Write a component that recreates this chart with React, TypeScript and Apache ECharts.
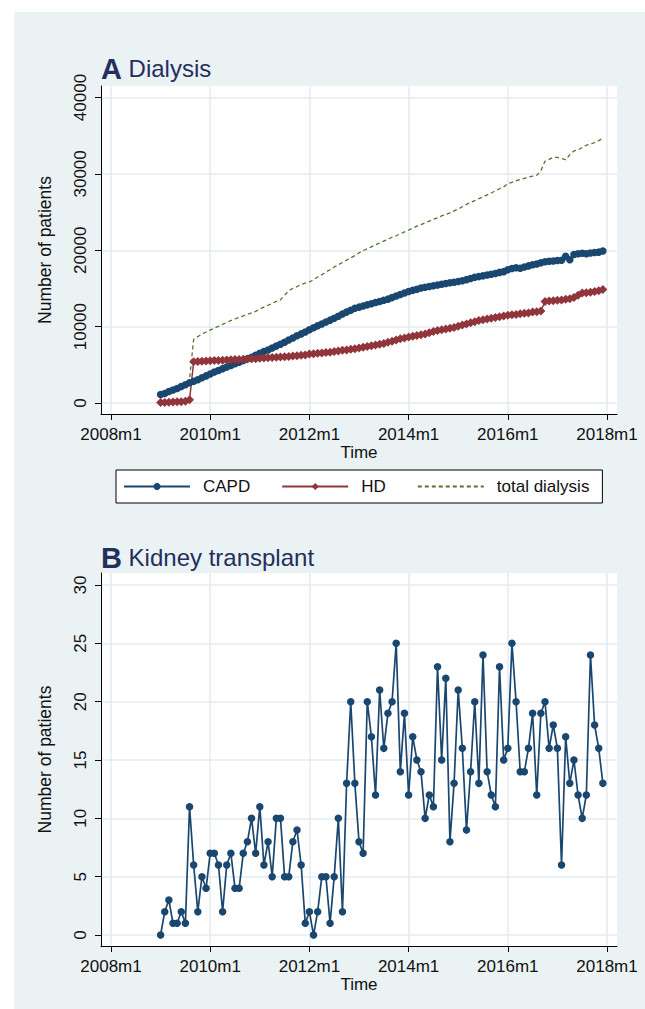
import React, { useEffect, useRef } from "react";
import * as echarts from "echarts";

// x positions are months counted from 2008m1 (= 0)
const xTickValues = [0, 24, 48, 72, 96, 120];
const xTickLabels = ["2008m1", "2010m1", "2012m1", "2014m1", "2016m1", "2018m1"];
const dialysisTicks = [0, 10000, 20000, 30000, 40000];
const transplantTicks = [0, 5, 10, 15, 20, 25, 30];
const legendNames = ["CAPD", "HD", "total dialysis"];
const firstMonth = 12; // 2009m1

// Panel A (monthly, 2009m1 .. 2017m12)
const capd = [
  1100, 1250, 1500, 1700, 1900, 2150, 2400, 2650, 2850, 3050, 3300, 3550,
  3800, 4050, 4250, 4500, 4700, 4900, 5150, 5350, 5550, 5800, 6000, 6250,
  6500, 6750, 6950, 7200, 7450, 7700, 7950, 8250, 8500, 8800, 9050, 9300,
  9600, 9850, 10100, 10350, 10600, 10850, 11100, 11350, 11650, 11900, 12150, 12400,
  12550, 12700, 12850, 13000, 13150, 13300, 13450, 13600, 13800, 14000, 14200, 14400,
  14600, 14750, 14900, 15050, 15150, 15250, 15350, 15450, 15550, 15650, 15750, 15800,
  15900, 16000, 16150, 16300, 16450, 16550, 16650, 16750, 16850, 16950, 17100, 17200,
  17450, 17600, 17700, 17650, 17800, 17950, 18100, 18200, 18350, 18500, 18550, 18600,
  18650, 18700, 19200, 18750, 19450, 19550, 19600, 19550, 19650, 19700, 19750, 19900,
];
const hd = [
  50, 80, 100, 120, 150, 180, 220, 420, 5400, 5450, 5480, 5500,
  5520, 5550, 5580, 5600, 5620, 5650, 5680, 5700, 5720, 5750, 5780, 5800,
  5850, 5880, 5920, 5950, 5980, 6020, 6060, 6100, 6150, 6200, 6250, 6300,
  6400, 6450, 6500, 6550, 6600, 6650, 6750, 6800, 6900, 6950, 7050, 7100,
  7200, 7300, 7400, 7500, 7600, 7700, 7800, 7950, 8100, 8250, 8400, 8500,
  8650, 8750, 8850, 8950, 9050, 9200, 9350, 9500, 9600, 9700, 9800, 9900,
  10050, 10200, 10350, 10500, 10650, 10800, 10900, 11000, 11100, 11200, 11300, 11400,
  11500, 11550, 11600, 11700, 11750, 11800, 11900, 11950, 12050, 13300, 13350, 13400,
  13450, 13500, 13600, 13650, 13800, 14100, 14400, 14450, 14500, 14600, 14700, 14850,
];
const totalDialysis = [
  1150, 1300, 1550, 1800, 2050, 2350, 2600, 3100, 8350, 8700, 9000, 9300,
  9550, 9800, 10050, 10300, 10550, 10800, 11000, 11200, 11400, 11600, 11800, 12000,
  12300, 12550, 12800, 13050, 13300, 13500, 14100, 14700, 15000, 15250, 15500, 15700,
  15850, 16150, 16500, 16800, 17150, 17450, 17800, 18100, 18400, 18700, 19000, 19300,
  19650, 19950, 20200, 20450, 20700, 20950, 21200, 21450, 21700, 21900, 22150, 22400,
  22650, 22900, 23150, 23350, 23600, 23800, 24050, 24250, 24500, 24700, 24900, 25150,
  25400, 25700, 26000, 26250, 26500, 26750, 27000, 27250, 27500, 27800, 28050, 28300,
  28700, 28900, 29100, 29250, 29400, 29600, 29700, 29800, 30400, 31650, 31900, 32150,
  32150, 32000, 31850, 32500, 33000, 33150, 33450, 33750, 33900, 34100, 34350, 34650,
];

// Panel B (monthly, 2009m1 .. 2017m12)
const transplant = [
  0, 2, 3, 1, 1, 2, 1, 11, 6, 2, 5, 4,
  7, 7, 6, 2, 6, 7, 4, 4, 7, 8, 10, 7,
  11, 6, 8, 5, 10, 10, 5, 5, 8, 9, 6, 1,
  2, 0, 2, 5, 5, 1, 5, 10, 2, 13, 20, 13,
  8, 7, 20, 17, 12, 21, 16, 19, 20, 25, 14, 19,
  12, 17, 15, 14, 10, 12, 11, 23, 15, 22, 8, 13,
  21, 16, 9, 14, 20, 13, 24, 14, 12, 11, 23, 15,
  16, 25, 20, 14, 14, 16, 19, 12, 19, 20, 16, 18,
  16, 6, 17, 13, 15, 12, 10, 12, 24, 18, 16, 13,
];

const NAVY = "#1a476f";
const MAROON = "#90353b";
const GREEN = "#55752f";
const BG = "#eaf2f3";
const GRIDLINE = "#e3ebf0";
const TITLE = "#242f5c";
const TEXT = "#111111";
const FONT = "'Liberation Sans', Arial, Helvetica, sans-serif";

const pairs = (vals: number[]) => vals.map((v, i) => [firstMonth + i, v]);

function xAxisFor(gridIndex: number) {
  return {
    type: "value",
    gridIndex,
    min: -2.42,
    max: 122.42,
    axisLine: { show: true, onZero: false, lineStyle: { color: "#000", width: 1 } },
    axisTick: { show: true, length: 6, customValues: xTickValues, lineStyle: { color: "#000", width: 1 } },
    axisLabel: {
      customValues: xTickValues,
      formatter: (v: number) => xTickLabels[xTickValues.indexOf(Math.round(v))] ?? "",
      fontSize: 17,
      color: TEXT,
      fontFamily: FONT,
      margin: 12,
    },
    splitLine: { show: true, lineStyle: { color: GRIDLINE, width: 1.5 } },
    name: "Time",
    nameLocation: "middle",
    nameGap: 30,
    nameTextStyle: { fontSize: 17, color: TEXT, fontFamily: FONT },
  };
}

function yAxisFor(gridIndex: number, min: number, max: number, ticks: number[]) {
  return {
    type: "value",
    gridIndex,
    min,
    max,
    axisLine: { show: true, onZero: false, lineStyle: { color: "#000", width: 1 } },
    axisTick: { show: true, length: 6, customValues: ticks, lineStyle: { color: "#000", width: 1 } },
    axisLabel: {
      customValues: ticks,
      formatter: (v: number) => String(Math.round(v)),
      rotate: 90,
      fontSize: 17,
      color: TEXT,
      fontFamily: FONT,
      margin: 12,
    },
    splitLine: { show: true, lineStyle: { color: GRIDLINE, width: 1.5 } },
    name: "Number of patients",
    nameLocation: "middle",
    nameGap: 47,
    nameTextStyle: { fontSize: 17.5, color: TEXT, fontFamily: FONT },
  };
}

function titleFor(letter: string, word: string, top: number) {
  return {
    text: `{a|${letter}}{b| ${word}}`,
    left: 101,
    top,
    padding: 0,
    textStyle: {
      fontWeight: "normal",
      rich: {
        a: { fontSize: 29, fontWeight: "bold", color: TITLE, fontFamily: FONT },
        b: { fontSize: 24, fontWeight: "normal", color: TITLE, fontFamily: FONT },
      },
    },
  };
}

export default function App() {
  const ref = useRef<HTMLDivElement>(null);

  useEffect(() => {
    if (!ref.current) return;
    const chart = echarts.init(ref.current, undefined, { renderer: "svg" });
    chart.setOption({
      animation: false,
      backgroundColor: BG,
      graphic: [
        { type: "rect", z: 100, shape: { x: 0, y: 0, width: 645, height: 12 }, style: { fill: "#fff" } },
        { type: "rect", z: 100, shape: { x: 0, y: 0, width: 14, height: 1009 }, style: { fill: "#fff" } },
      ],
      title: [titleFor("A", "Dialysis", 54), titleFor("B", "Kidney transplant", 543)],
      grid: [
        { left: 101, top: 86, width: 516, height: 328, show: true, backgroundColor: "#fff", borderWidth: 0 },
        { left: 101, top: 573, width: 516, height: 373, show: true, backgroundColor: "#fff", borderWidth: 0 },
      ],
      xAxis: [xAxisFor(0), xAxisFor(1)],
      yAxis: [
        yAxisFor(0, -1440, 41506, dialysisTicks),
        yAxisFor(1, -0.943, 31.03, transplantTicks),
      ],
      legend: {
        data: [
          { name: legendNames[0] },
          { name: legendNames[1] },
          { name: legendNames[2], itemStyle: { opacity: 0, color: "rgba(0,0,0,0)", borderWidth: 0 } },
        ],
        left: 116,
        top: 470,
        orient: "horizontal",
        backgroundColor: "#fff",
        borderColor: "#000",
        borderWidth: 1,
        borderRadius: 0,
        padding: [8, 13, 8, 7],
        itemWidth: 66,
        itemHeight: 9,
        itemGap: 31,
        selectedMode: false,
        textStyle: { fontSize: 17, color: TEXT, fontFamily: FONT, padding: [0, 0, 0, 8] },
      },
      series: [
        {
          name: legendNames[0],
          type: "line",
          xAxisIndex: 0,
          yAxisIndex: 0,
          data: pairs(capd),
          symbol: "circle",
          symbolSize: 7.5,
          lineStyle: { color: NAVY, width: 1.5 },
          itemStyle: { color: NAVY },
        },
        {
          name: legendNames[1],
          type: "line",
          xAxisIndex: 0,
          yAxisIndex: 0,
          data: pairs(hd),
          symbol: "diamond",
          symbolSize: 9,
          lineStyle: { color: MAROON, width: 1.5 },
          itemStyle: { color: MAROON },
        },
        {
          name: legendNames[2],
          type: "line",
          xAxisIndex: 0,
          yAxisIndex: 0,
          data: pairs(totalDialysis),
          symbol: "none",
          showSymbol: false,
          lineStyle: { color: GREEN, width: 1.3, type: [4, 3] },
          itemStyle: { color: GREEN },
        },
        {
          name: "Kidney transplant",
          type: "line",
          xAxisIndex: 1,
          yAxisIndex: 1,
          data: pairs(transplant),
          symbol: "circle",
          symbolSize: 7.5,
          lineStyle: { color: NAVY, width: 1.7 },
          itemStyle: { color: NAVY },
        },
      ],
    });
    return () => chart.dispose();
  }, []);

  return (
    <div
      ref={ref}
      style={{ position: "absolute", left: 0, top: 0, width: 645, height: 1009 }}
    />
  );
}
